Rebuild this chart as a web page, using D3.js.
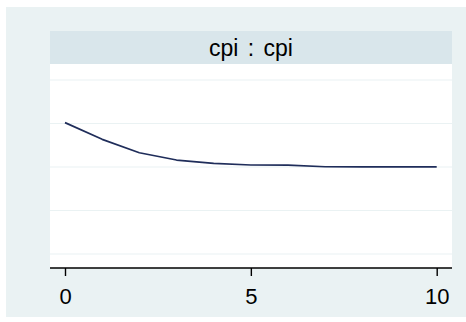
<!DOCTYPE html>
<html>
<head>
<meta charset="utf-8">
<script src="https://cdn.jsdelivr.net/npm/d3@7"></script>
<style>
  html, body { margin: 0; padding: 0; background: #ffffff; }
  svg { display: block; font-family: Arial, "Liberation Sans", sans-serif; }
</style>
</head>
<body>
<svg id="chart" width="466" height="322"></svg>
<script>
// Data
const panelTitle = "cpi : cpi";
const steps = [0, 1, 2, 3, 4, 5, 6, 7, 8, 9, 10];
const irf = [0.0151, 0.01318, 0.01164, 0.0108, 0.01042, 0.01023, 0.01022, 0.01003, 0.01002, 0.01001, 0.01001];
const xTicks = [0, 5, 10];
const yGrid = [0, 0.005, 0.01, 0.015, 0.02];

const svg = d3.select("#chart");

// Outer background
svg.append("rect").attr("x", 6).attr("y", 7).attr("width", 460).attr("height", 310)
  .attr("fill", "#EAF2F3");

const panel = { left: 50, right: 452, top: 31, stripBottom: 64, bottom: 268 };

// Plot area (white)
svg.append("rect").attr("x", panel.left).attr("y", panel.stripBottom)
  .attr("width", panel.right - panel.left).attr("height", panel.bottom - panel.stripBottom)
  .attr("fill", "#ffffff");

// Title strip
svg.append("rect").attr("x", panel.left).attr("y", panel.top)
  .attr("width", panel.right - panel.left).attr("height", panel.stripBottom - panel.top)
  .attr("fill", "#D9E6EB");
svg.append("text").attr("x", (panel.left + panel.right) / 2).attr("y", 56)
  .attr("text-anchor", "middle").attr("font-size", "23px").attr("fill", "#000")
  .style("word-spacing", "3px")
  .text(panelTitle);

const x = d3.scaleLinear().domain([0, 10]).range([65, 436.7]);
const y = d3.scaleLinear().domain([0, 0.02]).range([254, 80]);

// Gridlines
svg.append("g").selectAll("line").data(yGrid).join("line")
  .attr("x1", panel.left).attr("x2", panel.right)
  .attr("y1", d => y(d)).attr("y2", d => y(d))
  .attr("stroke", "#EAF2F3").attr("stroke-width", 1.2);

// Line
svg.append("path").datum(steps.map((s, i) => [s, irf[i]]))
  .attr("fill", "none").attr("stroke", "#1f2d5a").attr("stroke-width", 1.7)
  .attr("stroke-linejoin", "round")
  .attr("d", d3.line().x(d => x(d[0])).y(d => y(d[1])));

// X axis
const xAxis = d3.axisBottom(x).tickValues(xTicks).tickSize(8).tickPadding(8)
  .tickFormat(d3.format("d"));
const gx = svg.append("g").attr("transform", `translate(0,${panel.bottom})`).call(xAxis);
gx.select(".domain").remove();
gx.append("line").attr("x1", panel.left).attr("x2", panel.right)
  .attr("y1", 0).attr("y2", 0).attr("stroke", "#000").attr("stroke-width", 1.6);
gx.selectAll(".tick line").attr("stroke", "#000").attr("stroke-width", 1.4);
gx.selectAll(".tick text").attr("font-size", "22px").attr("fill", "#000")
  .attr("font-family", "Arial, 'Liberation Sans', sans-serif")
  .attr("dy", null).attr("y", 35.5);
</script>
</body>
</html>
